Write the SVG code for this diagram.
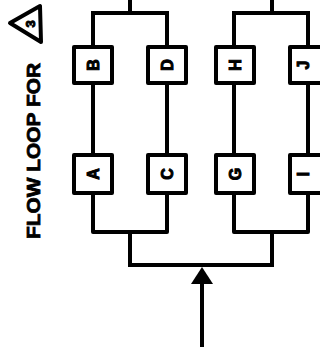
<svg xmlns="http://www.w3.org/2000/svg" width="320" height="347" viewBox="0 0 320 347">
<style>
.ln{fill:none;stroke:#000;stroke-width:4;stroke-linejoin:round;stroke-linecap:square}
.bx{fill:#fff;stroke:#000;stroke-width:4;stroke-linejoin:round}
.lb{font-family:"Liberation Sans",Arial,sans-serif;font-weight:bold;font-size:16px;fill:#000;stroke:#000;stroke-width:1;text-anchor:middle;dominant-baseline:central}
.tt{font-family:"Liberation Sans",Arial,sans-serif;font-weight:bold;font-size:18px;fill:#000;stroke:#000;stroke-width:0.8}
</style>
<g id="connectors">
<path class="ln" d="M130,0 V13 M93,13 H167 M93,13 V47 M167,13 V47 M93,83 V155 M167,83 V155 M93,193 V232 H167 V193 M130,232 V265"/>
<path class="ln" d="M272,0 V13 M234,13 H308 M234,13 V47 M308,13 V47 M234,83 V155 M308,83 V155 M234,193 V232 H308 V193 M272,232 V265"/>
<path class="ln" d="M130,265 H272"/>
<path class="ln" d="M202,347 V280"/>
<polygon points="202,267 191,284 213,284" fill="#000"/>
</g>
<g id="title">
<text class="tt" transform="translate(40,239) rotate(-90)" textLength="176" lengthAdjust="spacingAndGlyphs">FLOW LOOP FOR</text>
<polygon points="10,23 40,6 41,42" fill="none" stroke="#000" stroke-width="4" stroke-linejoin="round"/>
<text class="lb" style="font-size:13px" transform="translate(30,24) rotate(-90)">3</text>
</g>
<g id="nodeB"><rect class="bx" x="74" y="47" width="38" height="36"/><text class="lb" transform="translate(93,65) rotate(-90)">B</text></g>
<g id="nodeD"><rect class="bx" x="148" y="47" width="38" height="36"/><text class="lb" transform="translate(167,65) rotate(-90)">D</text></g>
<g id="nodeA"><rect class="bx" x="74" y="155" width="38" height="38"/><text class="lb" transform="translate(93,174) rotate(-90)">A</text></g>
<g id="nodeC"><rect class="bx" x="148" y="155" width="38" height="38"/><text class="lb" transform="translate(167,174) rotate(-90)">C</text></g>
<g id="nodeH"><rect class="bx" x="216" y="47" width="38" height="36"/><text class="lb" transform="translate(235,65) rotate(-90)">H</text></g>
<g id="nodeJ"><rect class="bx" x="290" y="47" width="38" height="36"/><text class="lb" transform="translate(303,65) rotate(-90)">J</text></g>
<g id="nodeG"><rect class="bx" x="216" y="155" width="38" height="38"/><text class="lb" transform="translate(235,174) rotate(-90)">G</text></g>
<g id="nodeI"><rect class="bx" x="290" y="155" width="38" height="38"/><text class="lb" transform="translate(303,174) rotate(-90)">I</text></g>
</svg>
